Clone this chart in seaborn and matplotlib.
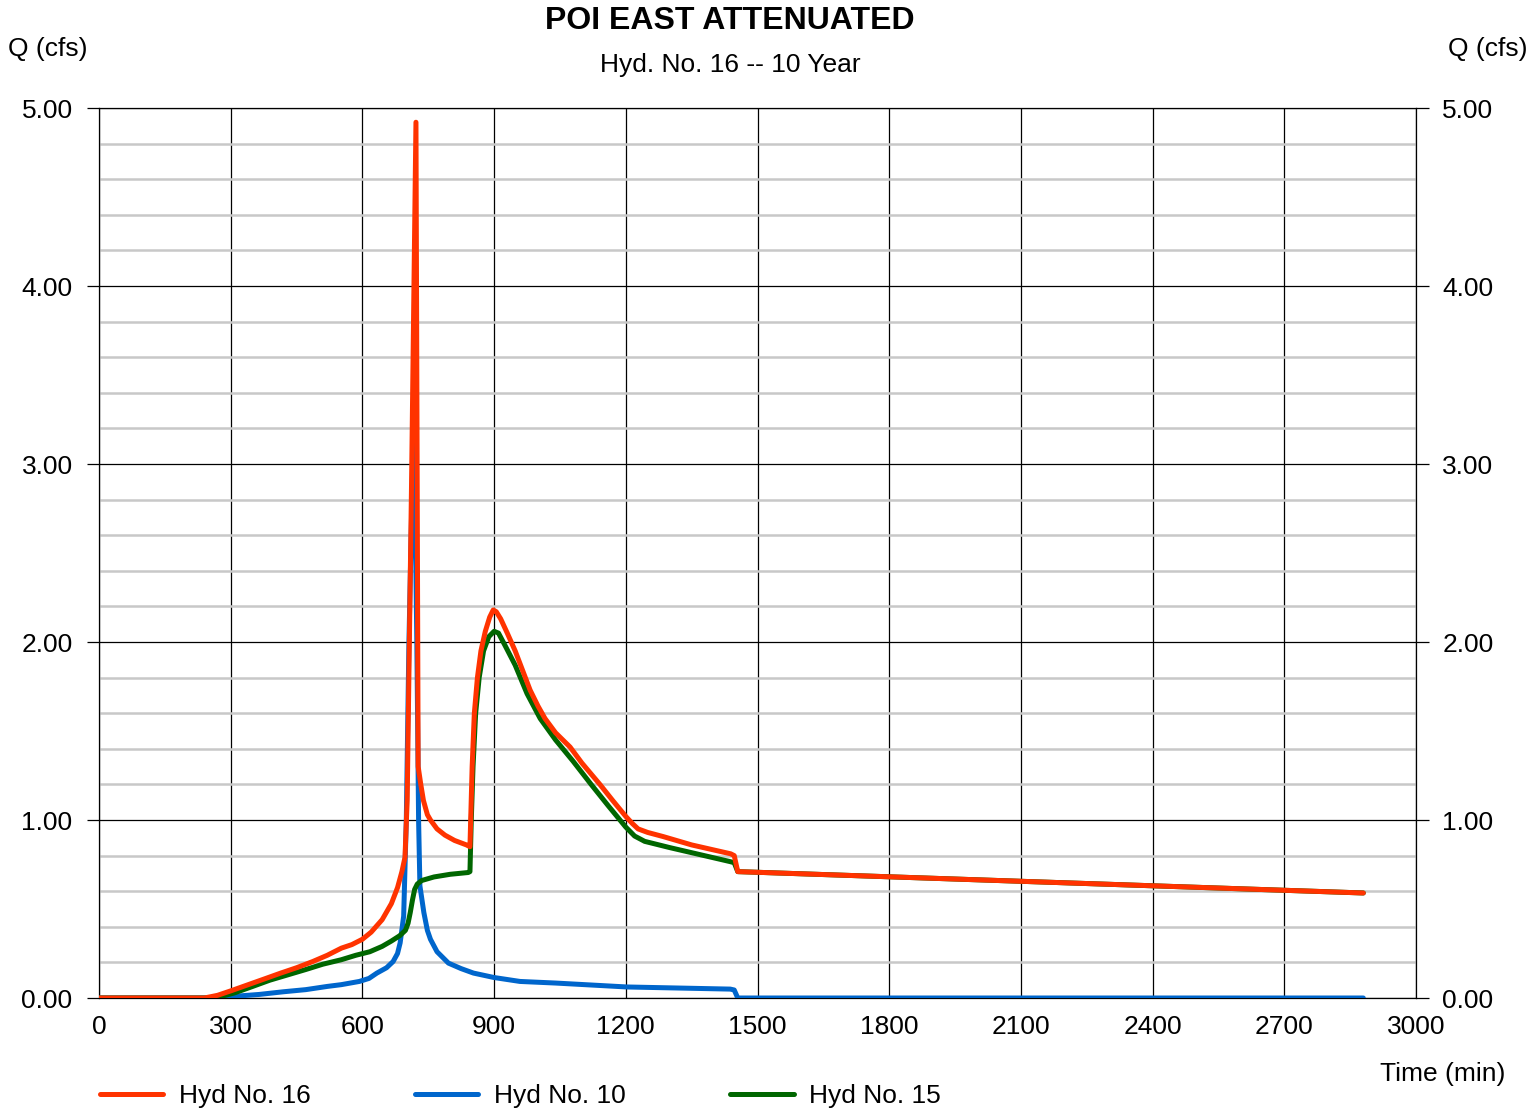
import numpy as np
import pandas as pd
import matplotlib
matplotlib.use("Agg")
import matplotlib.pyplot as plt
import seaborn as sns
from matplotlib.ticker import MultipleLocator, FixedLocator
from matplotlib.lines import Line2D

# ---------------- data ----------------
t16 = [0, 240, 270, 300, 340, 380, 414, 450, 487, 520, 552, 576, 600, 620, 645, 666, 680, 690,
       697, 702, 712, 722, 727, 733, 739, 748, 755, 770, 788, 810, 837, 845, 850, 855, 862, 870,
       880, 890, 898, 905, 915, 930, 948, 965, 982, 1000, 1016, 1040, 1073, 1100, 1141, 1170,
       1200, 1215, 1228, 1250, 1285, 1350, 1439, 1447, 1455, 2880]
q16 = [0, 0, 0.015, 0.04, 0.075, 0.11, 0.14, 0.17, 0.205, 0.24, 0.28, 0.30, 0.33, 0.37, 0.44, 0.53, 0.62, 0.71,
       0.79, 1.11, 2.9, 4.92, 1.30, 1.20, 1.11, 1.03, 1.0, 0.95, 0.915, 0.885, 0.86, 0.85, 1.3, 1.6, 1.8, 1.95,
       2.06, 2.14, 2.18, 2.17, 2.13, 2.05, 1.95, 1.84, 1.73, 1.64, 1.57, 1.49, 1.41, 1.32, 1.20, 1.11,
       1.02, 0.98, 0.95, 0.93, 0.907, 0.86, 0.81, 0.80, 0.71, 0.59]

t10 = [0, 260, 300, 365, 420, 471, 520, 552, 593, 615, 633, 655, 670, 680, 686, 694, 700, 706,
       717, 724, 728, 731, 740, 748, 755, 770, 796, 825, 853, 900, 959, 1040, 1202, 1438, 1447,
       1455, 2880]
q10 = [0, 0, 0.008, 0.02, 0.035, 0.047, 0.065, 0.075, 0.093, 0.11, 0.14, 0.17, 0.205, 0.25, 0.31, 0.46, 1.0, 2.0,
       3.3, 2.0, 1.0, 0.63, 0.48, 0.38, 0.33, 0.26, 0.196, 0.165, 0.14, 0.115, 0.093, 0.084, 0.062, 0.05, 0.045,
       0, 0]

t15 = [0, 255, 280, 308, 350, 389, 430, 471, 510, 552, 585, 617, 645, 666, 685, 698, 704, 709,
       714, 719, 725, 735, 763, 800, 841, 845, 848, 852, 858, 866, 876, 888, 900, 910, 925, 948,
       975, 1005, 1040, 1080, 1121, 1160, 1200, 1220, 1243, 1300, 1438, 1447, 1455, 2880]
q15 = [0, 0, 0.01, 0.028, 0.065, 0.10, 0.13, 0.16, 0.19, 0.215, 0.24, 0.26, 0.29, 0.32, 0.35, 0.38, 0.42, 0.48,
       0.55, 0.61, 0.64, 0.66, 0.68, 0.695, 0.705, 0.71, 1.0, 1.3, 1.6, 1.8, 1.95, 2.03, 2.06, 2.05, 1.98, 1.87,
       1.71, 1.57, 1.45, 1.33, 1.20, 1.08, 0.96, 0.91, 0.88, 0.845, 0.766, 0.76, 0.71, 0.59]

series_names = ["Hyd No. 16", "Hyd No. 10", "Hyd No. 15"]
series_colors = ["#FF3300", "#0066CC", "#006600"]
x_ticks = [0, 300, 600, 900, 1200, 1500, 1800, 2100, 2400, 2700, 3000]
y_ticks = [0, 1, 2, 3, 4, 5]

title = "POI EAST ATTENUATED"
subtitle = "Hyd. No. 16 -- 10 Year"

# ---------------- style ----------------
sns.set_style("white")
plt.rcParams["font.family"] = ["Liberation Sans", "DejaVu Sans"]
plt.rcParams["text.color"] = "black"
plt.rcParams["xtick.color"] = "black"
plt.rcParams["ytick.color"] = "black"
plt.rcParams["axes.labelcolor"] = "black"

W, H = 1533, 1112
fig = plt.figure(figsize=(W / 100, H / 100), dpi=100)
ax = fig.add_axes([99 / W, 1 - 998 / H, (1416 - 99) / W, (998 - 108) / H])

df16 = pd.DataFrame({"t": t16, "q": q16})
df10 = pd.DataFrame({"t": t10, "q": q10})
df15 = pd.DataFrame({"t": t15, "q": q15})

lw = 3.6
for df, col, z in [(df10, series_colors[1], 3), (df15, series_colors[2], 4), (df16, series_colors[0], 5)]:
    sns.lineplot(data=df, x="t", y="q", ax=ax, color=col, lw=lw, sort=False,
                 estimator=None, zorder=z, solid_capstyle="round", solid_joinstyle="round")

ax.set_xlim(0, 3000)
ax.set_ylim(0, 5)
ax.xaxis.set_major_locator(FixedLocator(x_ticks))
ax.yaxis.set_major_locator(FixedLocator(y_ticks))
ax.yaxis.set_minor_locator(MultipleLocator(0.2))
ax.set_xticklabels([str(v) for v in x_ticks])
ax.set_yticklabels([f"{v:.2f}" for v in y_ticks])

ax.set_axisbelow(True)
ax.grid(False)
ax.xaxis.grid(True, which="major", color="black", lw=0.9)
ax.yaxis.grid(True, which="major", color="black", lw=0.9)
ax.yaxis.grid(True, which="minor", color="#c8c8c8", lw=1.8)

for s in ax.spines.values():
    s.set_color("black")
    s.set_linewidth(0.9)
    s.set_visible(True)

ax.tick_params(axis="x", which="both", length=0, pad=12, labelsize=19, colors="black")
ax.tick_params(axis="y", which="major", length=9, width=0.9, pad=10, labelsize=19,
               left=True, right=True, labelleft=True, labelright=True, direction="out", colors="black")
ax.tick_params(axis="y", which="minor", length=0, left=False, right=False)
ax.set_xlabel("")
ax.set_ylabel("")

# titles & axis labels
fig.text(730 / W, 1 - 21 / H, title, ha="center", va="center", fontsize=23, fontweight="bold")
fig.text(730 / W, 1 - 65 / H, subtitle, ha="center", va="center", fontsize=19)
fig.text(8 / W, 1 - 49 / H, "Q (cfs)", ha="left", va="center", fontsize=19)
fig.text(1527 / W, 1 - 49 / H, "Q (cfs)", ha="right", va="center", fontsize=19)
fig.text(1505 / W, 1 - 1074 / H, "Time (min)", ha="right", va="center", fontsize=19)

# legend
handles = [Line2D([0], [0], color=c, lw=lw, solid_capstyle="round") for c in series_colors]
if ax.get_legend() is not None:
    ax.get_legend().remove()
fig.legend(handles, series_names, loc="center left", bbox_to_anchor=(100 / W, 1 - 1096 / H),
           ncol=3, frameon=False, fontsize=19, handlelength=2.4, handletextpad=0.6,
           columnspacing=3.95, borderpad=0, borderaxespad=0)

fig.savefig("out.png", dpi=100)
